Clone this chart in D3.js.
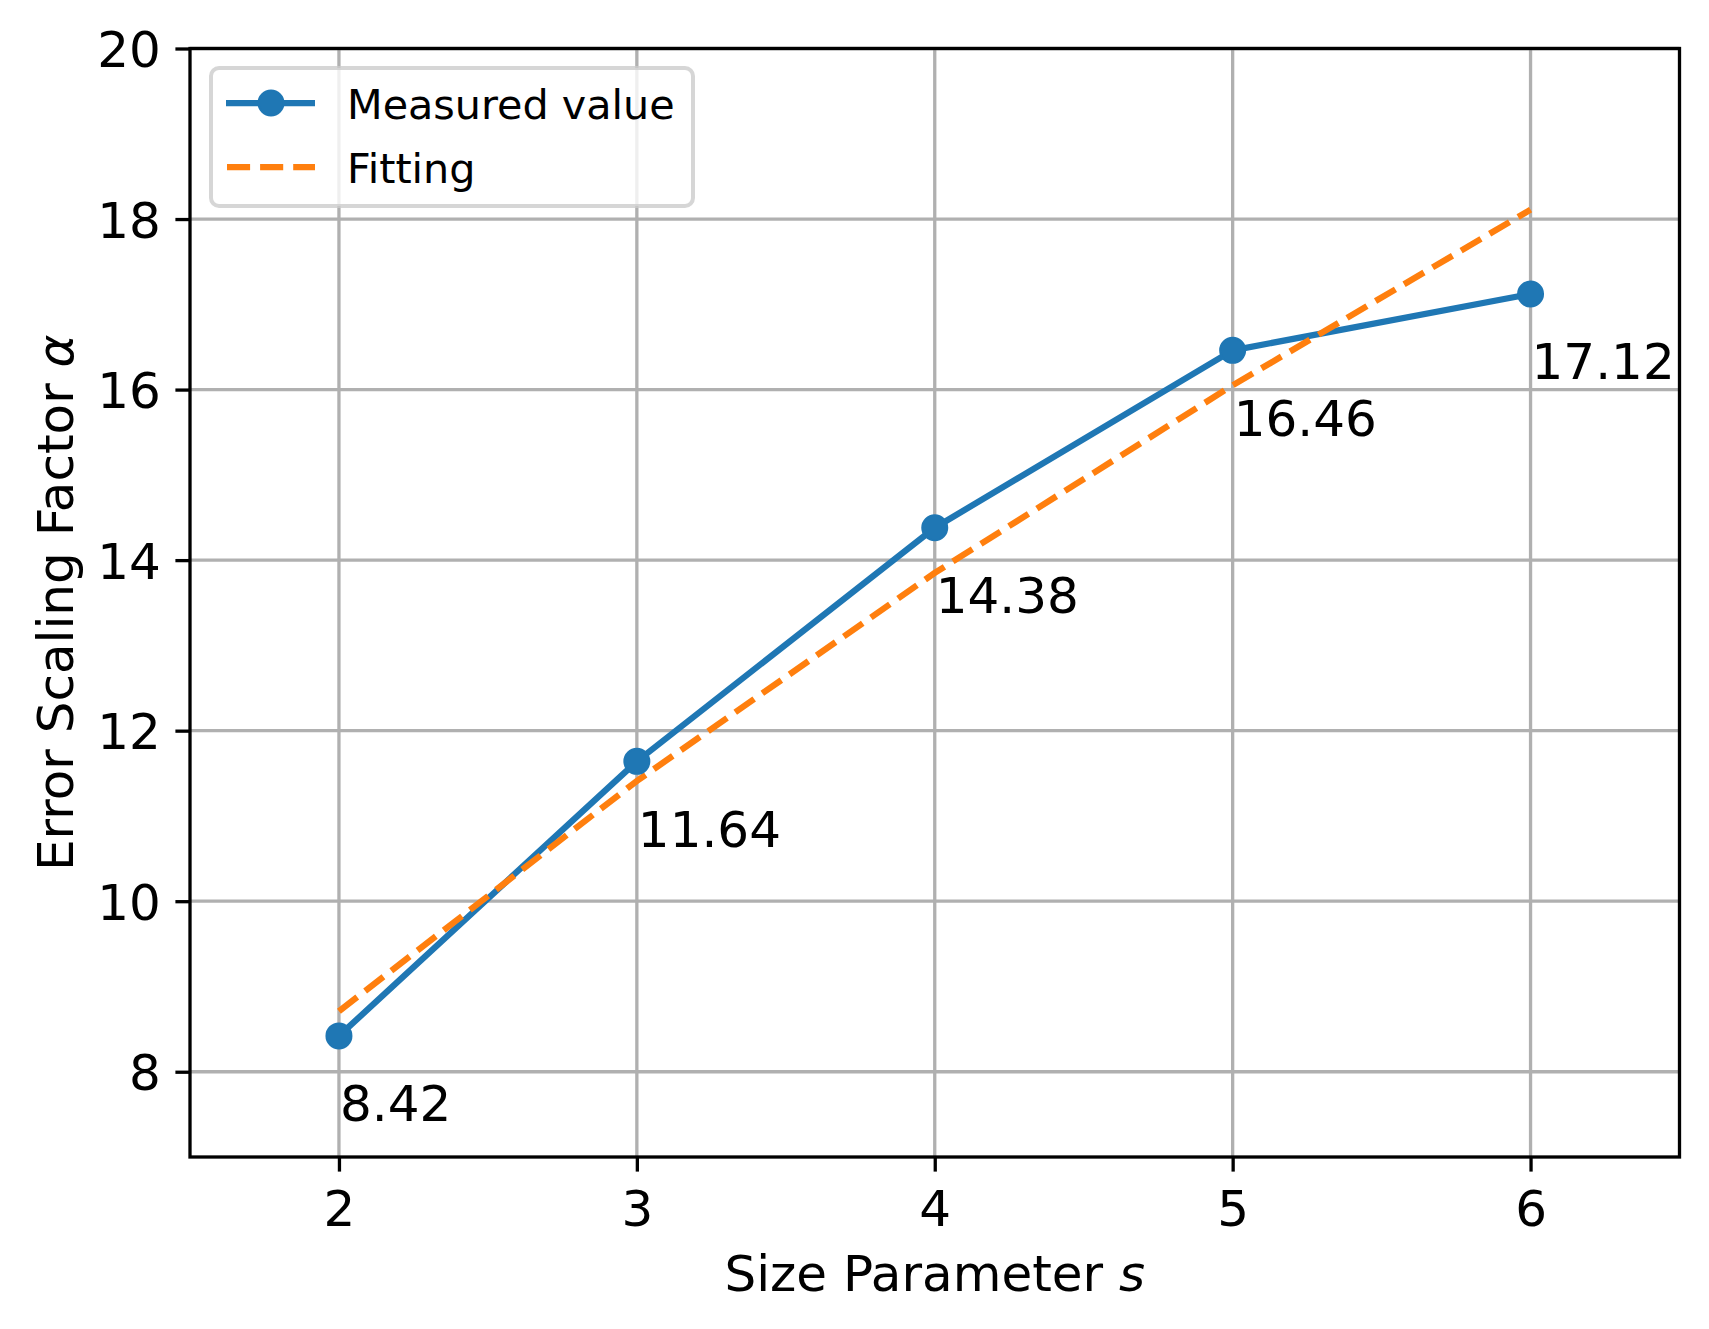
<!DOCTYPE html>
<html>
<head>
<meta charset="utf-8">
<script src="https://cdn.jsdelivr.net/npm/d3@7"></script>
<style>
  html, body { margin: 0; padding: 0; background: #ffffff; }
  svg { display: block; }
  text { font-family: "DejaVu Sans", sans-serif; fill: #000; }
</style>
</head>
<body>
<svg id="chart" width="1709" height="1329"></svg>
<script>
// ---- data ----
const sizeParams = [2, 3, 4, 5, 6];
const measuredValues = [8.42, 11.64, 14.38, 16.46, 17.12];
const fittingValues = [8.71, 11.41, 13.85, 16.05, 18.11];
const xTicks = [2, 3, 4, 5, 6];
const yTicks = [8, 10, 12, 14, 16, 18, 20];
const xDomain = [1.5, 6.5];
const yDomain = [7, 20];
const seriesNames = ["Measured value", "Fitting"];

// ---- layout ----
const W = 1709, H = 1329;
const plot = { left: 190, right: 1679.5, top: 48.5, bottom: 1157 };
const blue = "#1f77b4", orange = "#ff7f0e";

const svg = d3.select("#chart");
svg.append("rect").attr("width", W).attr("height", H).attr("fill", "#fff");

const x = d3.scaleLinear().domain(xDomain).range([plot.left, plot.right]);
const y = d3.scaleLinear().domain(yDomain).range([plot.bottom, plot.top]);

// grid
const grid = svg.append("g");
grid.selectAll("line.gx").data(xTicks).join("line")
  .attr("x1", d => x(d)).attr("x2", d => x(d))
  .attr("y1", plot.top).attr("y2", plot.bottom)
  .attr("stroke", "#b0b0b0").attr("stroke-width", 3.3);
grid.selectAll("line.gy").data(yTicks).join("line")
  .attr("y1", d => y(d)).attr("y2", d => y(d))
  .attr("x1", plot.left).attr("x2", plot.right)
  .attr("stroke", "#b0b0b0").attr("stroke-width", 3.3);

// axes
const xAxis = d3.axisBottom(x).tickValues(xTicks).tickFormat(d3.format("d"))
  .tickSize(14.6).tickPadding(14).tickSizeOuter(0);
const yAxis = d3.axisLeft(y).tickValues(yTicks).tickFormat(d3.format("d"))
  .tickSize(14.6).tickPadding(14.6).tickSizeOuter(0);

const gx = svg.append("g").attr("transform", `translate(0,${plot.bottom})`).call(xAxis);
const gy = svg.append("g").attr("transform", `translate(${plot.left},0)`).call(yAxis);
[gx, gy].forEach(g => {
  g.select(".domain").remove();
  g.selectAll(".tick line").attr("stroke", "#000").attr("stroke-width", 3.3);
  g.selectAll(".tick text").attr("font-size", 50).attr("font-family", "DejaVu Sans").attr("fill", "#000");
});
gx.selectAll(".tick text").attr("dy", null).attr("y", 69).attr("dominant-baseline", "alphabetic");
gy.selectAll(".tick text").attr("dy", "0.36em");

// lines
const lineGen = d3.line().x(d => x(d[0])).y(d => y(d[1]));
const clipId = "plotclip";
svg.append("clipPath").attr("id", clipId).append("rect")
  .attr("x", plot.left).attr("y", plot.top)
  .attr("width", plot.right - plot.left).attr("height", plot.bottom - plot.top);

const marks = svg.append("g").attr("clip-path", `url(#${clipId})`);
marks.append("path")
  .datum(sizeParams.map((s, i) => [s, measuredValues[i]]))
  .attr("d", lineGen).attr("fill", "none").attr("stroke", blue)
  .attr("stroke-width", 6.25).attr("stroke-linejoin", "round");
marks.append("path")
  .datum(sizeParams.map((s, i) => [s, fittingValues[i]]))
  .attr("d", lineGen).attr("fill", "none").attr("stroke", orange)
  .attr("stroke-width", 6.25).attr("stroke-dasharray", "23.1 10");
marks.selectAll("circle.m").data(sizeParams.map((s, i) => [s, measuredValues[i]]))
  .join("circle")
  .attr("cx", d => x(d[0])).attr("cy", d => y(d[1])).attr("r", 12.5)
  .attr("fill", blue).attr("stroke", blue).attr("stroke-width", 2);

// annotations
svg.append("g").selectAll("text").data(sizeParams.map((s, i) => [s, measuredValues[i]]))
  .join("text")
  .attr("x", d => x(d[0]) + 1).attr("y", d => y(d[1] - 1))
  .attr("font-size", 50)
  .text(d => d[1].toFixed(2));

// spines
svg.append("rect")
  .attr("x", plot.left).attr("y", plot.top)
  .attr("width", plot.right - plot.left).attr("height", plot.bottom - plot.top)
  .attr("fill", "none").attr("stroke", "#000").attr("stroke-width", 3.3)
  .attr("stroke-linecap", "square");

// axis labels
const xl = svg.append("text").attr("x", (plot.left + plot.right) / 2).attr("y", 1291)
  .attr("text-anchor", "middle").attr("font-size", 50);
xl.append("tspan").text("Size Parameter ");
xl.append("tspan").attr("font-style", "italic").text("s");

const yl = svg.append("text")
  .attr("transform", `translate(73,${(plot.top + plot.bottom) / 2}) rotate(-90)`)
  .attr("text-anchor", "middle").attr("font-size", 50);
yl.append("tspan").text("Error Scaling Factor ");
yl.append("tspan").attr("font-style", "italic").text("α");

// legend
const lg = svg.append("g");
lg.append("rect").attr("x", 211).attr("y", 68).attr("width", 482).attr("height", 138)
  .attr("rx", 8).attr("ry", 8)
  .attr("fill", "#fff").attr("fill-opacity", 0.8)
  .attr("stroke", "#cccccc").attr("stroke-opacity", 0.8).attr("stroke-width", 4);
const legendRows = [
  { name: seriesNames[0], color: blue, dash: null, marker: true, y: 103 },
  { name: seriesNames[1], color: orange, dash: "23.1 10", marker: false, y: 167 }
];
legendRows.forEach(r => {
  lg.append("line").attr("x1", 226).attr("x2", 315).attr("y1", r.y).attr("y2", r.y)
    .attr("stroke", r.color).attr("stroke-width", 6.25)
    .attr("stroke-dasharray", r.dash ? r.dash : null)
    .attr("stroke-dashoffset", r.dash ? -1 : null);
  if (r.marker) {
    lg.append("circle").attr("cx", 271).attr("cy", r.y).attr("r", 12.5)
      .attr("fill", r.color).attr("stroke", r.color).attr("stroke-width", 2);
  }
  lg.append("text").attr("x", 347).attr("y", r.y + 16).attr("font-size", 41.3).text(r.name);
});
</script>
</body>
</html>
